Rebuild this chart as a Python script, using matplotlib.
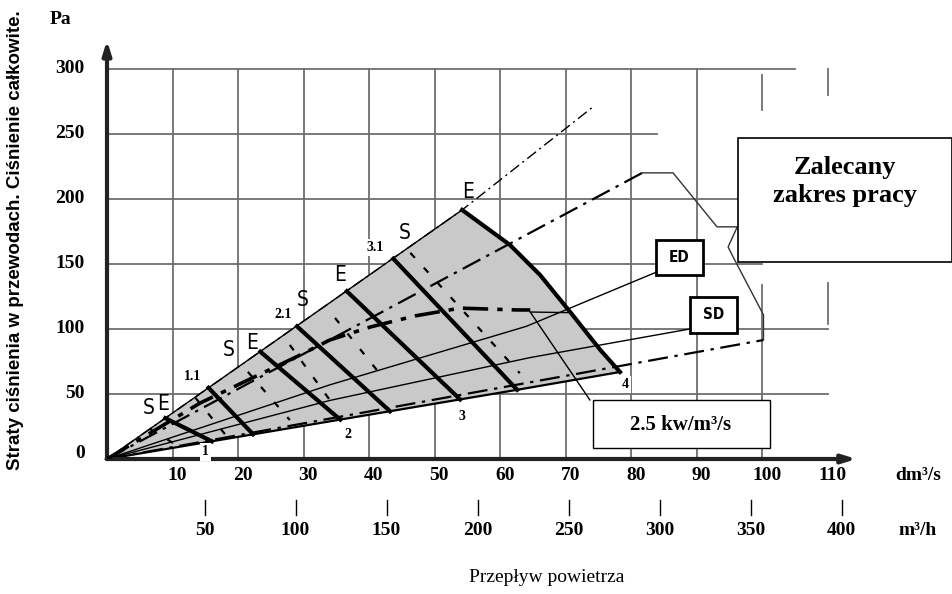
import numpy as np
import matplotlib.pyplot as plt
from matplotlib.patches import Polygon, Rectangle

# axis ticks
pa_ticks = [0, 50, 100, 150, 200, 250, 300]
dm_ticks = [10, 20, 30, 40, 50, 60, 70, 80, 90, 100, 110]
mh_ticks = [50, 100, 150, 200, 250, 300, 350, 400]

# shaded working field, x in dm3/s, y in Pa
field_top_x = [0, 54.2]
field_top_y = [0, 191.5]
field_edge_x = [54.2, 61.5, 66.1, 70.7, 75.3, 78.3]
field_edge_y = [191.5, 164.6, 141.5, 113.0, 83.8, 66.9]
field_low_x = [78.3, 62.6, 35.6, 16.0, 0]
field_low_y = [66.9, 53.2, 30.3, 13.6, 0]

# thick fan curves (E)
e_x = [[8.9, 16.0], [15.5, 22.3], [23.4, 35.6], [29.0, 43.2], [36.6, 53.9], [43.7, 62.6]]
e_y = [[31.4, 13.6], [54.7, 19.0], [82.5, 30.3], [102.0, 36.7], [129.0, 45.8], [154.0, 53.2]]

# dashed fan curves (S)
s_x = [[6.6, 11.0], [13.5, 18.5], [21.5, 27.9], [27.9, 34.0], [34.8, 42.4], [46.3, 63.0]]
s_y = [[23.0, 9.5], [47.0, 16.0], [67.0, 30.0], [87.7, 45.4], [108.5, 60.8], [158.5, 66.0]]

# system lines from the origin
line_a_x = [0, 54.2, 74.0]
line_a_y = [0, 191.5, 270.0]
line_b_x = [0, 81.7]
line_b_y = [0, 220.0]
line_f_x = [0, 100.2]
line_f_y = [0, 91.5]
ed_x = [0, 34, 64, 84]
ed_y = [0, 57, 102, 144]
sd_x = [0, 34, 64.6, 89]
sd_y = [0, 45, 78, 100]

# 2.5 kw/m3/s curve
power_x = [0, 14.2, 29.5, 34.0, 40.2, 47.0, 53.9, 62.6, 64.6]
power_y = [0, 43, 80, 91.5, 101.5, 110, 116, 114.6, 114.6]

# recommended range outline
range_x = [81.7, 86.4, 93.1, 96.2, 94.8, 95.6, 100.2, 100.2]
range_y = [220, 220, 178.5, 178.5, 163, 155, 110.8, 91.5]

# curve labels
num_labels = ['1', '2', '3', '4', '1.1', '2.1', '3.1']
num_x = [15.0, 36.8, 54.2, 79.1, 13.0, 26.9, 41.0]
num_y = [5.4, 18.5, 32.3, 57.0, 63.8, 110.8, 162.3]
se_labels = ['S', 'E', 'S', 'E', 'S', 'E', 'S', 'E']
se_x = [6.3, 8.5, 18.5, 22.1, 29.8, 35.6, 45.5, 55.1]
se_y = [39.2, 42.3, 83.8, 89.2, 122.3, 141.5, 173.8, 205.4]

serif = 'Liberation Serif'

fig = plt.figure(figsize=(9.53, 5.94), dpi=100)
ax = fig.add_axes([107 / 953, 1 - 459 / 594, 760 / 953, 424 / 594])
ax.set_xlim(0, 116)
ax.set_ylim(0, 326)
ax.axis('off')

gc = '#6e6e6e'
# grid
for y in pa_ticks[1:]:
    xe = 110
    if y == 300:
        xe = 105
    elif y == 250:
        xe = 84
    elif y == 200:
        xe = 96.3
    elif y == 150:
        xe = 100
    ax.plot([0, xe], [y, y], color=gc, lw=1.3, zorder=1)
for x in dm_ticks:
    if x <= 90:
        ax.plot([x, x], [0, 300], color=gc, lw=1.3, zorder=1)
    elif x == 100:
        ax.plot([x, x], [0, 134], color=gc, lw=1.3, zorder=1)
        ax.plot([x, x], [268, 295], color=gc, lw=1.3, zorder=1)
    else:
        ax.plot([x, x], [280, 300], color=gc, lw=1.3, zorder=1)
        ax.plot([x, x], [104, 135], color=gc, lw=1.3, zorder=1)

# shaded field
px = field_top_x + field_edge_x[1:] + field_low_x[1:]
py = field_top_y + field_edge_y[1:] + field_low_y[1:]
ax.add_patch(Polygon(np.column_stack([px, py]), closed=True, fc='#c9c9c9', ec='none', zorder=2))

# lines
ax.plot(line_a_x, line_a_y, color='k', lw=1.0, ls=(0, (8, 3, 1.5, 3)), zorder=3)
ax.plot(line_b_x, line_b_y, color='k', lw=1.6, ls=(0, (9, 3, 1.5, 3)), zorder=3)
ax.plot(line_f_x, line_f_y, color='k', lw=1.6, ls=(0, (9, 3, 1.5, 3)), zorder=3)
ax.plot(ed_x, ed_y, color='k', lw=1.0, zorder=3)
ax.plot(sd_x, sd_y, color='k', lw=1.0, zorder=3)
ax.plot(power_x, power_y, color='k', lw=2.6, ls=(0, (7, 2.5, 1.5, 2.5)), zorder=4)
ax.plot(range_x, range_y, color='#333333', lw=1.0, zorder=3)
ax.plot(field_top_x, field_top_y, color='k', lw=1.0, zorder=3)
ax.plot(field_low_x, field_low_y, color='k', lw=1.6, zorder=3)
ax.plot(field_edge_x, field_edge_y, color='k', lw=3.0, zorder=4)
for xs, ys in zip(e_x, e_y):
    ax.plot(xs, ys, color='k', lw=3.0, zorder=4)
for xs, ys in zip(s_x, s_y):
    ax.plot(xs, ys, color='k', lw=1.6, ls=(0, (3, 6)), zorder=4)

# pointer to the power curve label
ax.plot([power_x[-1], 71.0], [113, 112.5], color='k', lw=1.0, zorder=4)
ax.plot([power_x[-1], 73.7], [113, 45.4], color='k', lw=1.0, zorder=4, clip_on=False)

# axes with arrows
ax.annotate('', xy=(0, 324), xytext=(0, -1), annotation_clip=False,
            arrowprops=dict(arrowstyle='-|>,head_length=0.8,head_width=0.25', lw=3, color='#222222'))
ax.annotate('', xy=(114.8, 0), xytext=(-0.5, 0), annotation_clip=False,
            arrowprops=dict(arrowstyle='-|>,head_length=0.8,head_width=0.25', lw=3, color='#222222'))

# tick labels
for v in pa_ticks:
    ax.text(-3.4, v + (4 if v == 0 else 0), str(v), ha='right', va='center',
            family=serif, weight='bold', fontsize=14)
for v in dm_ticks:
    ax.text(v + 0.7, -13, str(v), ha='center', va='center', family=serif, weight='bold',
            fontsize=14, clip_on=False)
ax.text(123.8, -13, 'dm³/s', ha='center', va='center', family=serif, weight='bold', fontsize=14)
for v in mh_ticks:
    q = v / 3.6 + 1.0
    ax.plot([q, q], [-31.5, -43], color='k', lw=1.0, clip_on=False)
    ax.text(q, -55, str(v), ha='center', va='center', family=serif, weight='bold', fontsize=14)
ax.text(123.8, -55, 'm³/h', ha='center', va='center', family=serif, weight='bold', fontsize=14)

# labels on curves
for t, x, y in zip(num_labels, num_x, num_y):
    ax.text(x, y, t, ha='center', va='center', family=serif, weight='bold', fontsize=10,
            zorder=6, bbox=dict(fc='white', ec='none', pad=1.5))
for t, x, y in zip(se_labels, se_x, se_y):
    ax.text(x, y, t, ha='center', va='center', family='DejaVu Sans', fontstretch='condensed',
            fontsize=15, zorder=6)

# boxes
ax.add_patch(Rectangle((96.3, 151.5), 32.7, 95.5, fc='white', ec='k', lw=1.2, zorder=7, clip_on=False))
ax.text(112.7, 213.5, 'Zalecany\nzakres pracy', ha='center', va='center', family=serif,
        weight='bold', fontsize=19, linespacing=1.25, zorder=8)
ax.add_patch(Rectangle((74.2, 8.5), 27.0, 36.9, fc='white', ec='k', lw=1.0, zorder=7, clip_on=False))
ax.text(87.5, 26, '2.5 kw/m³/s', ha='center', va='center', family=serif, weight='bold',
        fontsize=15, zorder=8)
ax.add_patch(Rectangle((83.8, 141.5), 7.2, 27.0, fc='white', ec='k', lw=2.0, zorder=7))
ax.text(87.4, 155, 'ED', ha='center', va='center', family='DejaVu Sans', fontstretch='condensed',
        weight='bold', fontsize=11, zorder=8)
ax.add_patch(Rectangle((89.0, 97.0), 7.2, 27.6, fc='white', ec='k', lw=2.0, zorder=7))
ax.text(92.6, 110.8, 'SD', ha='center', va='center', family='DejaVu Sans', fontstretch='condensed',
        weight='bold', fontsize=11, zorder=8)

# axis titles
fig.text(60 / 953, 1 - 20 / 594, 'Pa', ha='center', va='center', family=serif, weight='bold', fontsize=14)
fig.text(16 / 953, 1 - 240 / 594, 'Straty ciśnienia w przewodach. Ciśnienie całkowite.',
         rotation=90, ha='center', va='center', family='Liberation Sans', weight='bold', fontsize=13.5)
fig.text(547 / 953, 1 - 578 / 594, 'Przepływ powietrza', ha='center', va='center',
         family=serif, fontsize=14)

fig.savefig('out.png', dpi=100)
